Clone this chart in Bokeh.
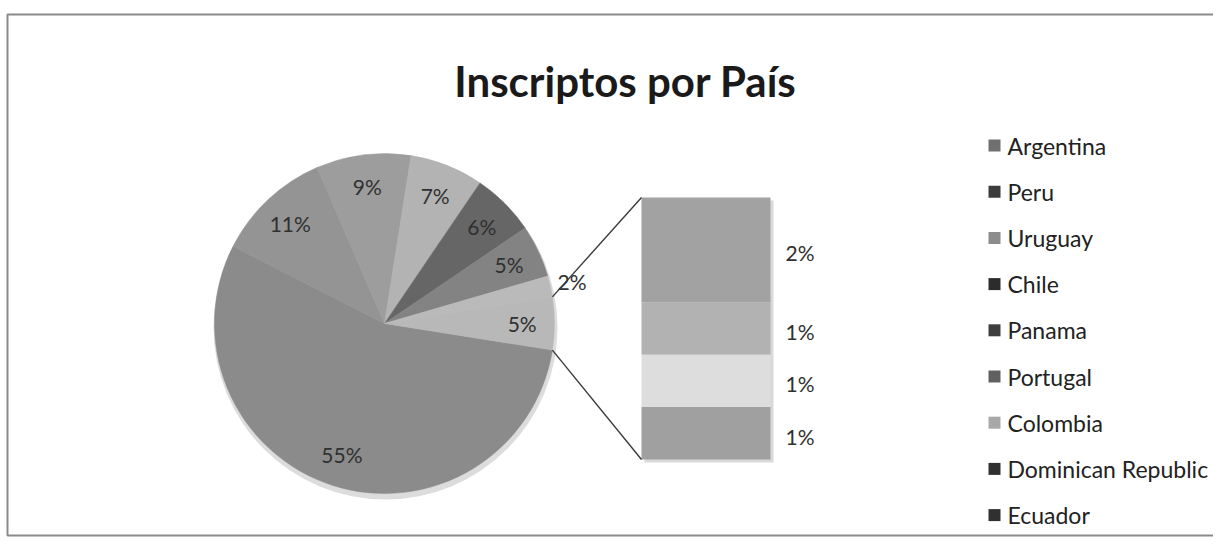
import math
from bokeh.plotting import figure
from bokeh.models import Range1d, ColumnDataSource
from bokeh.core.properties import value
from bokeh.embed import file_html
from bokeh.resources import INLINE

# ---------------- data ----------------
title_text = "Inscriptos por País"
main_categories = ["Argentina", "Peru", "Uruguay", "Chile", "Panama", "Portugal", "Colombia"]
main_values = [55, 11, 9, 7, 6, 5, 2]
secondary_categories = ["Dominican Republic", "Ecuador", "Otro 1", "Otro 2"]
secondary_values = [2, 1, 1, 1]
legend_labels = ["Argentina", "Peru", "Uruguay", "Chile", "Panama", "Portugal",
                 "Colombia", "Dominican Republic", "Ecuador"]

# ---------------- styles ----------------
main_colors = ["#8b8b8b", "#949494", "#9d9d9d", "#b3b3b3", "#666666", "#838383", "#bababa"]
other_color = "#b8b8b8"
secondary_colors = ["#a2a2a2", "#b2b2b2", "#dddddd", "#a0a0a0"]
legend_colors = ["#707070", "#3c3c3c", "#8c8c8c", "#2c2c2c", "#3e3e3e", "#606060",
                 "#a8a8a8", "#303030", "#303030"]
FONT = "Lato"
FIG_W, FIG_H = 1213, 537

def sy(screen_y):
    return FIG_H - screen_y

p = figure(width=FIG_W, height=FIG_H, x_range=Range1d(0, FIG_W), y_range=Range1d(0, FIG_H),
           x_axis_type=None, y_axis_type=None, toolbar_location=None,
           output_backend="svg", min_border=0, outline_line_color=None,
           background_fill_color="white", border_fill_color="white")
p.grid.visible = False

# chart frame (right side runs off the page, as in the scan)
p.multi_line(xs=[[1260, 7, 7, 1260]], ys=[[sy(14), sy(14), sy(535), sy(535)]],
             line_color="#8a8a8a", line_width=2)

# title
p.text(x=[625], y=[sy(80)], text=[title_text], text_font=value(FONT),
       text_font_style="bold", text_font_size="42px", text_align="center",
       text_baseline="alphabetic", text_color="#1a1a1a")

# ---------------- main pie ----------------
CX, CY, R = 384, sy(323), 170
total = sum(main_values) + sum(secondary_values)
other_total = sum(secondary_values)
half_other = other_total / total * math.pi

starts, ends, mids = [], [], []
cur = -half_other
for v in main_values:
    end = cur
    start = cur - v / total * 2 * math.pi
    starts.append(start); ends.append(end); mids.append((start + end) / 2)
    cur = start

# soft shadow under the pie
p.circle(x=[CX + 1], y=[CY - 4], radius=R + 2, fill_color="#dcdcdc", line_color=None)

pie_src = ColumnDataSource(dict(start=starts + [-half_other], end=ends + [half_other],
                                color=main_colors + [other_color]))
p.wedge(x=CX, y=CY, radius=R, start_angle="start", end_angle="end",
        fill_color="color", line_color="color", line_width=0.5, source=pie_src)

all_vals = main_values + [other_total]
all_mids = mids + [0.0]
lx, ly, lt = [], [], []
for v, m in zip(all_vals, all_mids):
    share = v / total
    rr = R * (1.13 if share < 0.03 else 0.81)
    lx.append(CX + rr * math.cos(m))
    ly.append(CY + rr * math.sin(m))
    lt.append(f"{share * 100:.0f}%")
p.text(x=lx, y=ly, text=lt, text_font=value(FONT), text_font_size="21px",
       text_align="center", text_baseline="middle", text_color="#303030")

# ---------------- secondary stacked bar ----------------
BAR_L, BAR_R = 641, 770
BAR_TOP, BAR_BOT = sy(197), sy(459)
unit = (BAR_TOP - BAR_BOT) / other_total
tops, bots = [], []
acc = 0
for v in secondary_values:
    tops.append(BAR_TOP - acc * unit)
    acc += v
    bots.append(BAR_TOP - acc * unit)

# soft shadow
p.quad(left=[BAR_L + 3], right=[BAR_R + 3], top=[BAR_TOP - 3], bottom=[BAR_BOT - 3],
       fill_color="#d9d9d9", line_color=None)
bar_src = ColumnDataSource(dict(left=[BAR_L] * len(secondary_values),
                                right=[BAR_R] * len(secondary_values),
                                top=tops, bottom=bots, color=secondary_colors))
p.quad(left="left", right="right", top="top", bottom="bottom",
       fill_color="color", line_color=None, source=bar_src)

p.text(x=[785] * len(secondary_values), y=[(t + b) / 2 - 3 for t, b in zip(tops, bots)],
       text=[f"{v / total * 100:.0f}%" for v in secondary_values],
       text_font=value(FONT), text_font_size="21px", text_align="left",
       text_baseline="middle", text_color="#303030")

# connector lines
p.segment(x0=[CX + R * math.cos(half_other), CX + R * math.cos(-half_other)],
          y0=[CY + R * math.sin(half_other), CY + R * math.sin(-half_other)],
          x1=[BAR_L, BAR_L], y1=[BAR_TOP, BAR_BOT],
          line_color="#3a3a3a", line_width=1.4)

# ---------------- legend ----------------
leg_y = [sy(145 + i * 46.2) for i in range(len(legend_labels))]
p.scatter(x=[994] * len(legend_labels), y=leg_y, marker="square", size=12,
          fill_color=legend_colors, line_color=None)
p.text(x=[1007] * len(legend_labels), y=leg_y, text=legend_labels,
       text_font=value(FONT), text_font_size="23px", text_align="left",
       text_baseline="middle", text_color="#222222")

open("out.html", "w").write(file_html(p, INLINE))
